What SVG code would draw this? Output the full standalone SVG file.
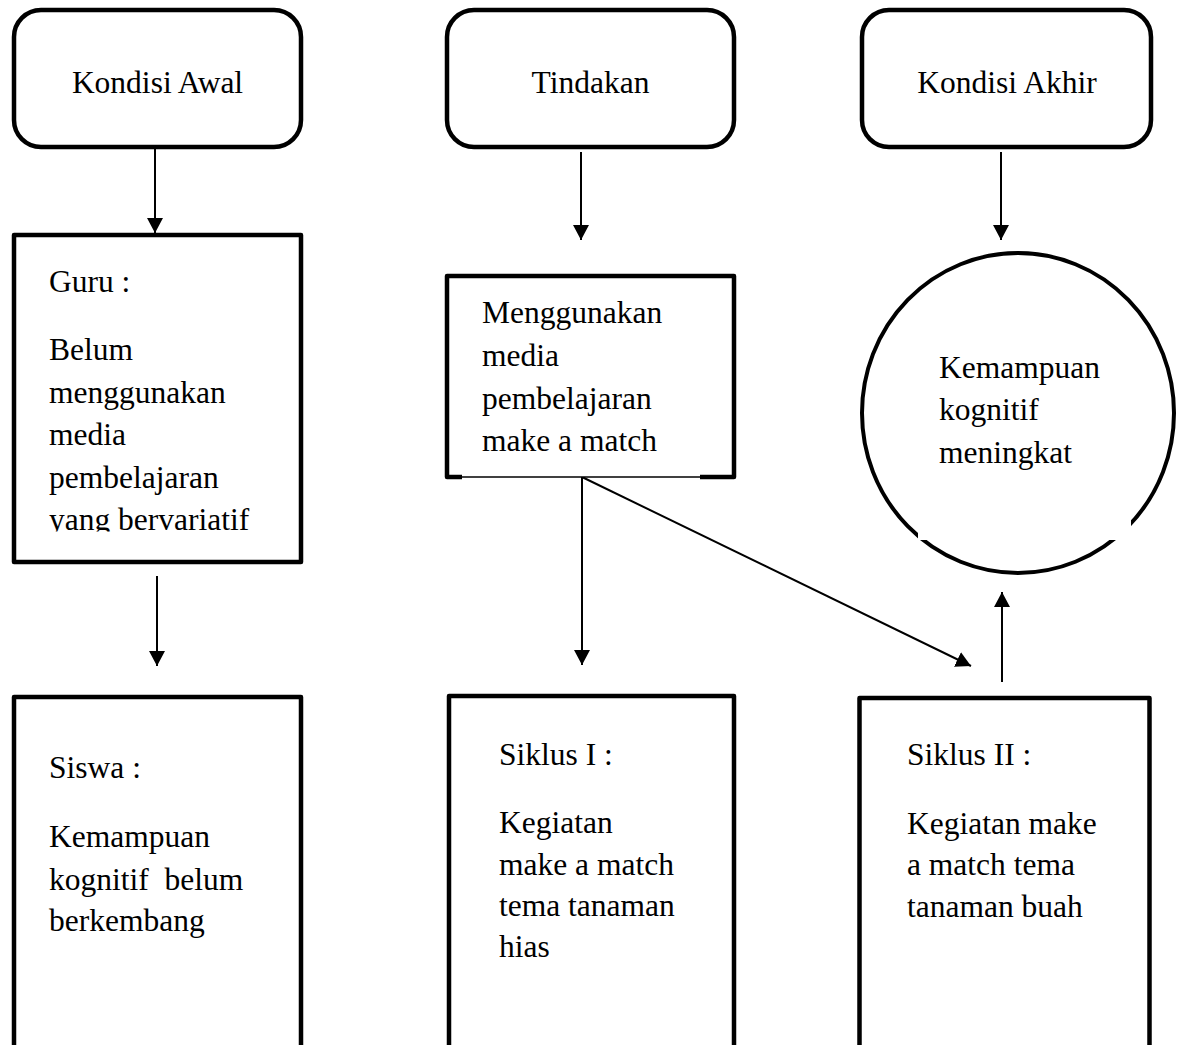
<svg xmlns="http://www.w3.org/2000/svg" width="1179" height="1045" viewBox="0 0 1179 1045">
<style>
  .box{fill:#fff;stroke:#000;stroke-width:4.5;stroke-linejoin:round}
  .t{font-family:"Liberation Serif","Times New Roman",serif;font-size:31.5px;fill:#000;white-space:pre}
  .c{text-anchor:middle}
  .ln{stroke:#000;stroke-width:2;fill:none}
</style>
<defs>
  <marker id="ah" markerUnits="userSpaceOnUse" markerWidth="16" markerHeight="16" refX="15" refY="8" orient="auto">
    <path d="M0,0 L15,8 L0,16 Z" fill="#000"/>
  </marker>
  <clipPath id="guruClip"><rect x="14" y="235" width="287" height="296.5"/></clipPath>
</defs>
<rect width="1179" height="1045" fill="#fff"/>

<g id="connectors">
  <line class="ln" x1="155" y1="149" x2="155" y2="233" marker-end="url(#ah)"/>
  <line class="ln" x1="581" y1="152" x2="581" y2="240" marker-end="url(#ah)"/>
  <line class="ln" x1="1001" y1="152" x2="1001" y2="240" marker-end="url(#ah)"/>
  <line class="ln" x1="157" y1="576" x2="157" y2="666" marker-end="url(#ah)"/>
  <line class="ln" x1="582" y1="477" x2="582" y2="665" marker-end="url(#ah)"/>
  <line class="ln" x1="582" y1="477" x2="971" y2="666" marker-end="url(#ah)"/>
  <line class="ln" x1="1002" y1="682" x2="1002" y2="592" marker-end="url(#ah)"/>
</g>

<g id="kondisi-awal">
  <rect class="box" x="14" y="10" width="287" height="137" rx="27"/>
  <text class="t c" x="157.5" y="93">Kondisi Awal</text>
</g>
<g id="tindakan">
  <rect class="box" x="447" y="10" width="287" height="137" rx="27"/>
  <text class="t c" x="590.5" y="93">Tindakan</text>
</g>
<g id="kondisi-akhir">
  <rect class="box" x="862" y="10" width="289" height="137" rx="27"/>
  <text class="t c" x="1007" y="93">Kondisi Akhir</text>
</g>

<g id="guru">
  <rect class="box" x="14" y="235" width="287" height="327"/>
  <g clip-path="url(#guruClip)">
    <text class="t" x="49" y="292">Guru :</text>
    <text class="t" x="49" y="360">Belum</text>
    <text class="t" x="49" y="402.5">menggunakan</text>
    <text class="t" x="49" y="445">media</text>
    <text class="t" x="49" y="487.5">pembelajaran</text>
    <text class="t" x="49" y="530">yang bervariatif</text>
  </g>
</g>

<g id="media">
  <rect x="447" y="276" width="287" height="201" fill="#fff"/>
  <path d="M462,477 H447 V276 H734 V477 H700" fill="none" stroke="#000" stroke-width="4.5" stroke-linejoin="round"/>
  <line x1="447" y1="477" x2="734" y2="477" stroke="#000" stroke-width="1.5"/>
  <text class="t" x="482" y="323">Menggunakan</text>
  <text class="t" x="482" y="366">media</text>
  <text class="t" x="482" y="408.5">pembelajaran</text>
  <text class="t" x="482" y="451">make a match</text>
</g>

<g id="hasil">
  <ellipse cx="1018" cy="413" rx="156" ry="160" fill="#fff" stroke="#000" stroke-width="4"/>
  <rect x="918" y="490" width="213" height="50" fill="#fff"/>
  <text class="t" x="939" y="378">Kemampuan</text>
  <text class="t" x="939" y="420">kognitif</text>
  <text class="t" x="939" y="463">meningkat</text>
</g>

<g id="siswa">
  <rect class="box" x="14" y="697" width="287" height="400"/>
  <text class="t" x="49" y="778">Siswa :</text>
  <text class="t" x="49" y="847">Kemampuan</text>
  <text class="t" x="49" y="889.5">kognitif  belum</text>
  <text class="t" x="49" y="931">berkembang</text>
</g>

<g id="siklus1">
  <rect class="box" x="449" y="696" width="285" height="400"/>
  <text class="t" x="499" y="765">Siklus I :</text>
  <text class="t" x="499" y="833">Kegiatan</text>
  <text class="t" x="499" y="875">make a match</text>
  <text class="t" x="499" y="916">tema tanaman</text>
  <text class="t" x="499" y="957">hias</text>
</g>

<g id="siklus2">
  <rect class="box" x="859.5" y="698" width="290" height="400"/>
  <text class="t" x="907" y="765">Siklus II :</text>
  <text class="t" x="907" y="834">Kegiatan make</text>
  <text class="t" x="907" y="875">a match tema</text>
  <text class="t" x="907" y="917">tanaman buah</text>
</g>
</svg>
